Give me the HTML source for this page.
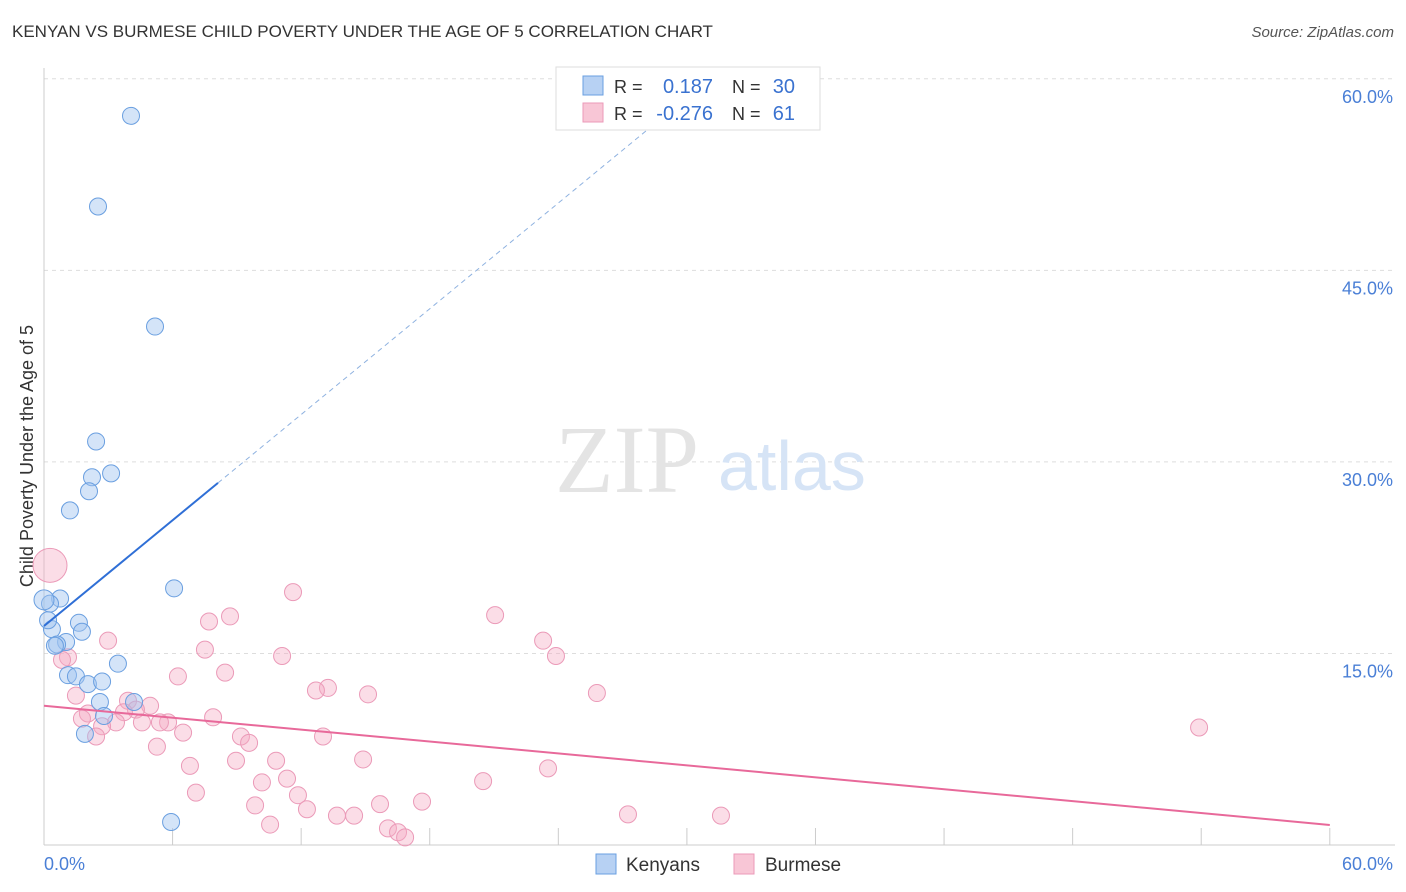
<!DOCTYPE html>
<html><head><meta charset="utf-8">
<style>
body{margin:0;background:#fff;font-family:"Liberation Sans",sans-serif;}
#wrap{position:relative;width:1406px;height:892px;overflow:hidden;}
.title{position:absolute;left:12px;top:22px;font-size:17px;color:#333;}
.source{position:absolute;right:12px;top:24px;font-size:15px;color:#555;font-style:italic;}
</style></head><body>
<div id="wrap">
<div class="title">KENYAN VS BURMESE CHILD POVERTY UNDER THE AGE OF 5 CORRELATION CHART</div>
<div class="source">Source: ZipAtlas.com</div>
<svg id="svg" width="1406" height="892" style="position:absolute;left:0;top:0"></svg>
</div>
<script>
const xTicks=[0,6,12,18,24,30,36,42,48,54,60];
const yTicks=[15,30,45,60];
const yTickLabels=["15.0%","30.0%","45.0%","60.0%"];
const kenyanX=[4.06,2.52,5.18,2.43,2.24,3.13,2.10,1.21,6.07,0.75,0.28,1.63,1.77,0.37,1.03,0.61,0.51,3.45,1.12,1.49,2.05,2.71,2.61,4.20,2.80,1.91,5.93,0.0,0.19];
const kenyanY=[57.1,50.0,40.6,31.6,28.8,29.1,27.7,26.2,20.1,19.3,18.9,17.4,16.7,16.9,15.9,15.7,15.6,14.2,13.3,13.2,12.6,12.8,11.2,11.2,10.1,8.7,1.8,19.2,17.6];
const burmeseX=[0.28,11.62,21.05,8.68,7.70,23.29,2.99,7.51,23.89,11.11,1.12,0.84,6.25,8.45,13.25,12.69,15.12,25.8,1.49,3.92,4.95,2.05,4.29,7.89,1.77,3.73,5.79,4.57,5.41,3.36,2.71,6.49,2.43,9.19,13.02,9.57,5.27,53.9,8.96,10.83,6.81,14.89,23.52,11.34,10.17,20.49,7.09,11.85,17.64,9.85,15.68,12.27,13.67,14.47,27.25,31.59,10.55,16.05,16.52,16.85];
const burmeseY=[21.9,19.8,18.0,17.9,17.5,16.0,16.0,15.3,14.8,14.8,14.7,14.5,13.2,13.5,12.3,12.1,11.8,11.9,11.7,11.3,10.9,10.3,10.6,10.0,9.9,10.4,9.6,9.6,9.6,9.6,9.3,8.8,8.5,8.5,8.5,8.0,7.7,9.2,6.6,6.6,6.2,6.7,6.0,5.2,4.9,5.0,4.1,3.9,3.4,3.1,3.2,2.8,2.3,2.3,2.4,2.3,1.6,1.3,1.0,0.6];
const kenyanTrend=[17.15,1.38];
const burmeseTrend=[10.9,-0.1555];
const kenyanR="0.187",kenyanN="30",burmeseR="-0.276",burmeseN="61";

const X=v=>44+v*21.43, Y=v=>845-v*12.77;
const svg=document.getElementById('svg');
const NS='http://www.w3.org/2000/svg';
function mk(t,a,p){const e=document.createElementNS(NS,t);for(const k in a)e.setAttribute(k,a[k]);(p||svg).appendChild(e);return e;}
yTicks.forEach((v,i)=>{
 const g=mk('line',{x1:44,x2:1395,y1:Y(v),y2:Y(v),stroke:'#ddd','stroke-dasharray':'4,4'});
 
 
 const t=mk('text',{x:1393,y:Y(v)+24,'text-anchor':'end','font-size':18,fill:'#4a7fd6'});
 t.textContent=yTickLabels[i];
 
 
});
const ax=mk('line',{x1:44,x2:44,y1:68,y2:845,stroke:'#ccc'});


const bx=mk('line',{x1:44,x2:1395,y1:845,y2:845,stroke:'#ccc'});


xTicks.forEach(v=>{
 const l=mk('line',{x1:X(v),x2:X(v),y1:828,y2:845,stroke:'#ccc'});
 
 
});
[[0,'start',"0.0%"],[60,'end',"60.0%"]].forEach(d=>{
 const t=mk('text',{x:d[0]==0?44:1393,y:870,'text-anchor':d[1],'font-size':18,fill:'#4a7fd6'});
 t.textContent=d[2];
 
 
});
const yt=mk('text',{x:33,y:456,'text-anchor':'middle','font-size':18,fill:'#333',transform:'rotate(-90 33 456)'});
yt.textContent='Child Poverty Under the Age of 5';


const wm=mk('text',{x:555,y:492,'font-size':96,fill:'#e4e4e4','font-family':'Liberation Serif'});
wm.textContent='ZIP';


const wm2=mk('text',{x:718,y:490,'font-size':70,fill:'#d6e4f6'});
wm2.textContent='atlas';


burmeseX.forEach((x,i)=>{
 const c=mk('circle',{cx:X(x),cy:Y(burmeseY[i]),r:i==0?17:8.5,fill:'rgba(245,170,196,0.4)',stroke:'#eb9ab8','stroke-width':1});
 
 
});
kenyanX.forEach((x,i)=>{
 const c=mk('circle',{cx:X(x),cy:Y(kenyanY[i]),r:i==27?10:8.5,fill:'rgba(160,196,240,0.45)',stroke:'#6a9fe0','stroke-width':1});
 
 
});
const kt=(x)=>kenyanTrend[0]+kenyanTrend[1]*x;
const k1=mk('line',{x1:X(0),y1:Y(kt(0)),x2:X(8.12),y2:Y(kt(8.12)),stroke:'#2f6fd6','stroke-width':2});


const k2=mk('line',{x1:X(8.12),y1:Y(kt(8.12)),x2:X(28.8),y2:Y(kt(28.8)),stroke:'#8fb2e0','stroke-width':1,'stroke-dasharray':'5,4'});


const bt=(x)=>burmeseTrend[0]+burmeseTrend[1]*x;
const b1=mk('line',{x1:X(0),y1:Y(bt(0)),x2:X(60),y2:Y(bt(60)),stroke:'#e8699a','stroke-width':2});


const lg=mk('g',{});


mk('rect',{x:556,y:67,width:264,height:63,fill:'#fff',stroke:'#ddd'},lg);
mk('rect',{x:583,y:76,width:20,height:19,fill:'#b7d1f3',stroke:'#6a9fe0'},lg);
mk('rect',{x:583,y:103,width:20,height:19,fill:'#f8c6d6',stroke:'#eb9ab8'},lg);
[[93,kenyanR,kenyanN],[120,burmeseR,burmeseN]].forEach(r=>{
 const a=mk('text',{x:614,y:r[0],'font-size':18,fill:'#333'},lg);a.textContent='R =';
 const b=mk('text',{x:713,y:r[0],'font-size':20,fill:'#3a72d0','text-anchor':'end'},lg);b.textContent=r[1];
 const c=mk('text',{x:732,y:r[0],'font-size':18,fill:'#333'},lg);c.textContent='N =';
 const d=mk('text',{x:795,y:r[0],'font-size':20,fill:'#3a72d0','text-anchor':'end'},lg);d.textContent=r[2];
});
const bl=mk('g',{});


mk('rect',{x:596,y:854,width:20,height:20,fill:'#b7d1f3',stroke:'#6a9fe0'},bl);
const t1=mk('text',{x:626,y:871,'font-size':19,fill:'#333'},bl);t1.textContent='Kenyans';
mk('rect',{x:734,y:854,width:20,height:20,fill:'#f8c6d6',stroke:'#eb9ab8'},bl);
const t2=mk('text',{x:765,y:871,'font-size':19,fill:'#333'},bl);t2.textContent='Burmese';
</script>
</body></html>
